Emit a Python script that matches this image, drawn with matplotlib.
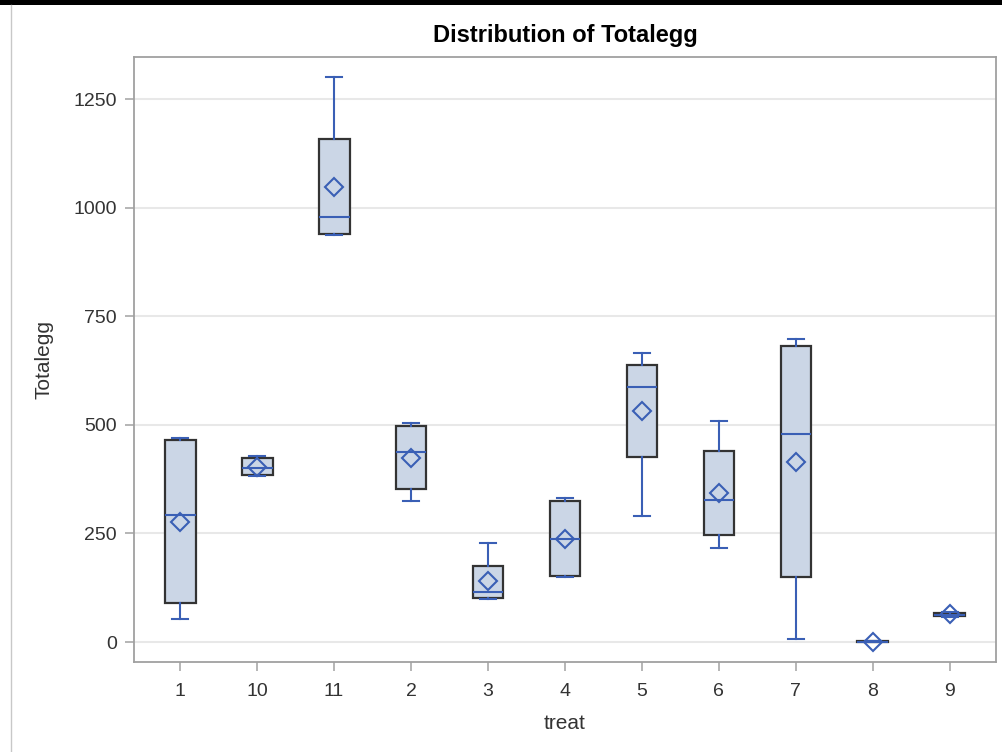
import matplotlib
matplotlib.use("Agg")
import matplotlib.pyplot as plt
from matplotlib.lines import Line2D
from matplotlib.patches import Rectangle

treat = ["1", "10", "11", "2", "3", "4", "5", "6", "7", "8", "9"]
whis_lo = [53, 383, 937, 325, 99, 150, 290, 216, 7, 0, 58]
q1 = [90, 384, 939, 352, 101, 152, 426, 246, 150, 0, 60]
median = [293, 400, 979, 437, 115, 237, 587, 327, 479, 1, 63]
q3 = [465, 423, 1158, 497, 175, 325, 638, 440, 681, 2, 67]
whis_hi = [470, 429, 1300, 504, 228, 331, 665, 509, 697, 2, 70]
mean = [277, 403, 1048, 424, 140, 237, 532, 343, 414, 1, 64]

plt.rcParams['font.family'] = ['Liberation Sans', 'DejaVu Sans']

fig = plt.figure(figsize=(10.02, 7.52), dpi=100)
W, H = 1002, 752
ax = fig.add_axes([134 / W, 1 - 662 / H, (996 - 134) / W, (662 - 57) / H])

blue = '#3a5fb5'
stats = []
for i in range(len(treat)):
    stats.append(dict(label=treat[i], whislo=whis_lo[i], q1=q1[i], med=median[i],
                      q3=q3[i], whishi=whis_hi[i], mean=mean[i], fliers=[]))

ax.bxp(stats, positions=range(len(treat)), widths=0.4, patch_artist=True,
       showmeans=True, shownotches=False,
       boxprops=dict(facecolor='#cbd6e6', edgecolor='#333333', linewidth=1.6),
       medianprops=dict(color=blue, linewidth=1.5),
       whiskerprops=dict(color=blue, linewidth=1.5),
       capprops=dict(color=blue, linewidth=1.5),
       capwidths=0.2,
       meanprops=dict(marker='D', markerfacecolor='none', markeredgecolor=blue,
                      markersize=9, markeredgewidth=1.5),
       zorder=3)

ax.set_xlim(-0.6, len(treat) - 0.4)
ax.set_ylim(-46, 1347)
ax.set_yticks([0, 250, 500, 750, 1000, 1250])
ax.set_xticks(range(len(treat)))
ax.set_xticklabels(treat)
ax.yaxis.grid(True, color='#e8e8e8', linewidth=1.5, zorder=0)
ax.set_axisbelow(True)
for s in ax.spines.values():
    s.set_color('#a0a0a0')
    s.set_linewidth(1.3)
ax.tick_params(axis='both', colors='#b0b0b0', labelcolor='#333333', labelsize=14,
               length=6.5, width=1.3, pad=6)
ax.tick_params(axis='x', pad=8.5)
ax.set_xlabel('treat', fontsize=15, color='#333333', labelpad=10)
ax.set_ylabel('Totalegg', fontsize=15, color='#333333', labelpad=14)
ax.set_title('Distribution of Totalegg', fontsize=17, fontweight='bold',
             color='#000000', pad=10.5)

# screenshot framing
fig.patches.append(Rectangle((0, 1 - 5 / H), 1, 5 / H, transform=fig.transFigure,
                             facecolor='black', edgecolor='none'))
fig.lines.append(Line2D([10.5 / W, 10.5 / W], [0, 1 - 5 / H], transform=fig.transFigure,
                        color='#c8c8c8', linewidth=1))

fig.savefig('out.png', dpi=100)
